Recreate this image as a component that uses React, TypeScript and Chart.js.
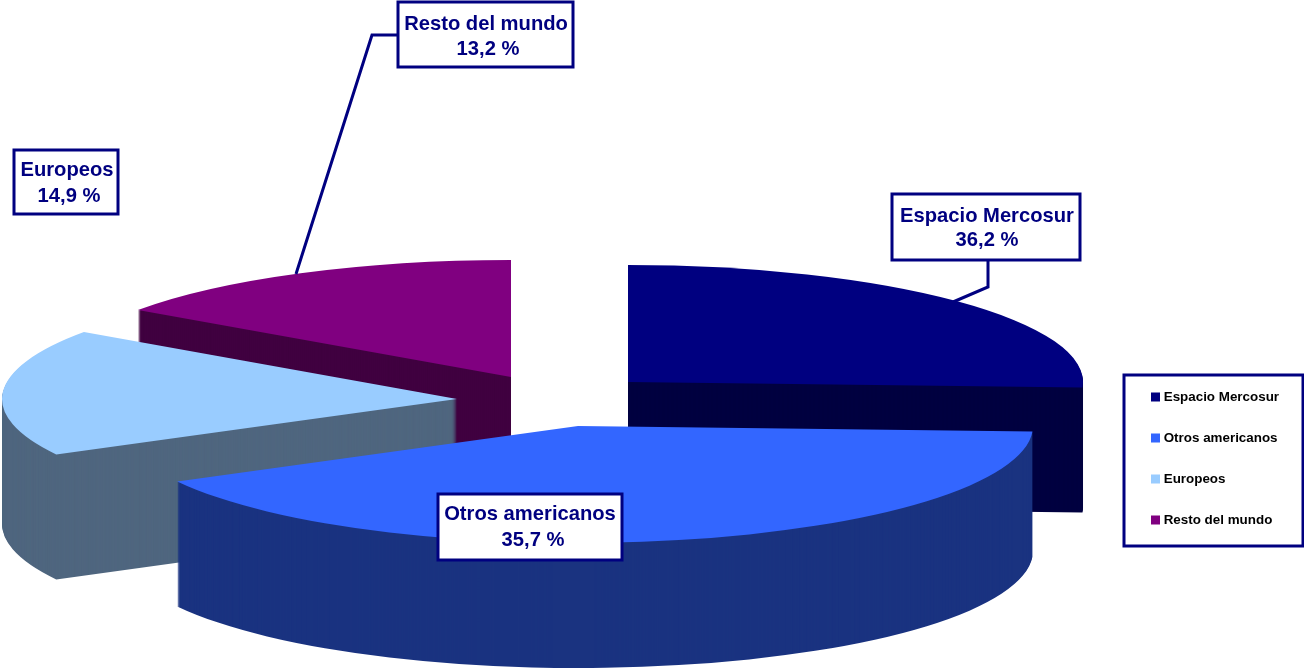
import React, { useEffect, useRef } from "react";
import { Chart, registerables } from "chart.js";

Chart.register(...registerables);

const categories = ["Espacio Mercosur", "Otros americanos", "Europeos", "Resto del mundo"];
// Percentages printed on the callouts of the reference.
const printedShares = ["36,2 %", "35,7 %", "14,9 %", "13,2 %"];
// Slice sizes measured from the drawn wedges: the reference's wedges do not
// follow its printed percentages, so the two are kept apart.
const drawnShares = [25.75, 41.4, 17.55, 15.3];
const topColors = ["#000080", "#3366FF", "#99CCFF", "#800080"];
const sideColors = ["#000040", "#1A3380", "#4F667F", "#400040"];

const TEXT = "#000080";
const FONT = '"Liberation Sans", Arial, sans-serif';
const RX = 455;
const RY = 117;
const DEPTH = 125;
// Where each exploded wedge has its apex, on the page.
const apex = [
  [628, 382],
  [578, 426],
  [457, 399],
  [511, 377],
];
const paintOrder = [3, 0, 2, 1];
// Callouts: box [x0, y0, x1, y1], leader polyline, centres and baselines of the two lines.
const callouts = [
  { box: [892, 194, 1080, 260], leader: [[988, 260], [988, 287], [953, 302]], cx: 987, cx2: 987, base: [222, 246] },
  { box: [438, 494, 622, 560], leader: [], cx: 530, cx2: 533, base: [520, 546] },
  { box: [14, 150, 118, 214], leader: [], cx: 67, cx2: 69, base: [176, 202] },
  { box: [398, 2, 573, 67], leader: [[398, 35], [372, 35], [296, 274]], cx: 486, cx2: 488, base: [30, 55] },
];
const legendBox = [1124, 375, 1303, 546];

const pie3d = {
  id: "pie3d",
  afterLayout(chart: any) {
    const l = chart.legend;
    const w = l.right - l.left;
    const h = l.bottom - l.top;
    l.left = 1126.4;
    l.right = 1126.4 + w;
    l.top = 362.7;
    l.bottom = 362.7 + h;
  },
  beforeDatasetsDraw(chart: any) {
    const ctx = chart.ctx;
    const arcs = chart.getDatasetMeta(0).data;
    for (const i of paintOrder) {
      const arc = arcs[i];
      const original = arc.options;
      const k = RX / arc.outerRadius;
      const ky = RY / arc.outerRadius;
      const paint = (dy: number, color: string) => {
        arc.options = Object.assign({}, original, { backgroundColor: color, borderWidth: 0 });
        ctx.save();
        ctx.translate(apex[i][0], apex[i][1] + dy);
        ctx.scale(k, ky);
        ctx.translate(-arc.x, -arc.y);
        arc.draw(ctx);
        ctx.restore();
      };
      for (let d = DEPTH; d > 0; d--) paint(d, sideColors[i]);
      paint(0, topColors[i]);
      arc.options = original;
    }
    return false;
  },
  afterDraw(chart: any) {
    const ctx = chart.ctx;
    ctx.save();
    ctx.strokeStyle = TEXT;
    ctx.fillStyle = "#FFFFFF";
    ctx.lineWidth = 3;
    ctx.lineJoin = "miter";
    ctx.strokeRect(legendBox[0], legendBox[1], legendBox[2] - legendBox[0], legendBox[3] - legendBox[1]);
    categories.forEach((name, i) => {
      const c: any = callouts[i];
      if (c.leader.length) {
        ctx.beginPath();
        c.leader.forEach((p: number[], j: number) => (j ? ctx.lineTo(p[0], p[1]) : ctx.moveTo(p[0], p[1])));
        ctx.stroke();
      }
      const [x0, y0, x1, y1] = c.box;
      ctx.fillStyle = "#FFFFFF";
      ctx.fillRect(x0, y0, x1 - x0, y1 - y0);
      ctx.strokeRect(x0, y0, x1 - x0, y1 - y0);
      ctx.fillStyle = TEXT;
      ctx.font = `bold 20.2px ${FONT}`;
      ctx.textAlign = "center";
      ctx.textBaseline = "alphabetic";
      ctx.fillText(name, c.cx, c.base[0]);
      ctx.fillText(printedShares[i], c.cx2, c.base[1]);
    });
    ctx.restore();
  },
};

export default function App() {
  const ref = useRef<HTMLCanvasElement>(null);
  useEffect(() => {
    const chart = new Chart(ref.current as HTMLCanvasElement, {
      type: "pie",
      data: {
        labels: categories,
        datasets: [{ data: drawnShares, backgroundColor: topColors, borderWidth: 0 }],
      },
      options: {
        responsive: false,
        animation: false,
        plugins: {
          tooltip: { enabled: false },
          legend: {
            position: "right",
            align: "start",
            labels: {
              boxWidth: 3,
              boxHeight: 3,
              padding: 27.6,
              color: TEXT,
              font: { family: FONT, size: 13.4, weight: "bold" },
              generateLabels: () =>
                categories.map((text, index) => ({
                  text,
                  index,
                  hidden: false,
                  fillStyle: topColors[index],
                  strokeStyle: topColors[index],
                  lineWidth: 6,
                  lineJoin: "miter",
                })),
            },
          },
        },
      },
      plugins: [pie3d],
    } as any);
    return () => chart.destroy();
  }, []);
  return (
    <div style={{ position: "fixed", left: 0, top: 0, background: "#fff" }}>
      <canvas ref={ref} width={1304} height={669} style={{ display: "block" }} />
    </div>
  );
}
